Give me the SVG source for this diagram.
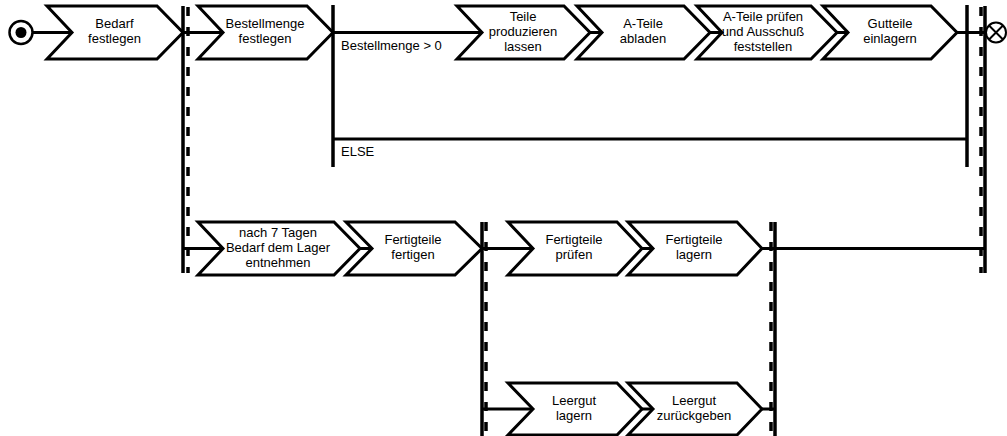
<svg xmlns="http://www.w3.org/2000/svg" width="1007" height="436" viewBox="0 0 1007 436">
  <style>
    .step { fill: #fff; stroke: #000; stroke-width: 3; stroke-linejoin: miter; }
    .flow { stroke: #000; stroke-width: 3; fill: none; }
    .bar { stroke: #000; stroke-width: 3.5; fill: none; }
    .dbar { stroke: #000; stroke-width: 3.5; stroke-dasharray: 9 11; fill: none; }
    text { font-family: "Liberation Sans", Arial, sans-serif; font-size: 13px; fill: #000; }
    .c { text-anchor: middle; }
  </style>

  <!-- connectors, bars and guards -->
  <g id="connectors">
    <!-- row 1 -->
    <line class="flow" x1="33" y1="32.5" x2="72" y2="32.5"/>
    <line class="flow" x1="183" y1="32.5" x2="223" y2="32.5"/>
    <line class="flow" x1="333" y1="32.5" x2="482" y2="32.5"/>
    <line class="flow" x1="590" y1="32.5" x2="602" y2="32.5"/>
    <line class="flow" x1="710" y1="32.5" x2="722" y2="32.5"/>
    <line class="flow" x1="837" y1="32.5" x2="848" y2="32.5"/>
    <line class="flow" x1="957" y1="32.5" x2="986" y2="32.5"/>
    <!-- ELSE branch -->
    <line class="flow" x1="333" y1="139" x2="967" y2="139"/>
    <!-- row 2 -->
    <line class="flow" x1="183" y1="248.5" x2="223" y2="248.5"/>
    <line class="flow" x1="360" y1="248.5" x2="372" y2="248.5"/>
    <line class="flow" x1="482" y1="248.5" x2="533" y2="248.5"/>
    <line class="flow" x1="642" y1="248.5" x2="653" y2="248.5"/>
    <line class="flow" x1="762" y1="248.5" x2="985" y2="248.5"/>
    <!-- row 3 -->
    <line class="flow" x1="482" y1="409" x2="533" y2="409"/>
    <line class="flow" x1="642" y1="409" x2="653" y2="409"/>
    <line class="flow" x1="762" y1="409" x2="775" y2="409"/>

    <!-- decision bars -->
    <line class="bar" x1="333" y1="5" x2="333" y2="167"/>
    <line class="bar" x1="967" y1="5" x2="967" y2="167"/>

    <!-- outer fork / join -->
    <line class="bar" x1="183" y1="6" x2="183" y2="273"/>
    <line class="dbar" x1="188" y1="7" x2="188" y2="273"/>
    <line class="dbar" x1="981" y1="7" x2="981" y2="273"/>
    <line class="bar" x1="985" y1="6" x2="985" y2="273"/>

    <!-- inner fork / join -->
    <line class="bar" x1="482" y1="222" x2="482" y2="436"/>
    <line class="dbar" x1="486" y1="222" x2="486" y2="436"/>
    <line class="dbar" x1="771" y1="222" x2="771" y2="436"/>
    <line class="bar" x1="775" y1="222" x2="775" y2="436"/>

    <text x="341" y="50">Bestellmenge &gt; 0</text>
    <text x="341" y="156">ELSE</text>
  </g>

  <g id="start">
    <circle cx="21" cy="32.5" r="11.5" fill="#fff" stroke="#000" stroke-width="2.5"/>
    <circle cx="21" cy="32.5" r="5.5" fill="#000"/>
  </g>

  <g id="end">
    <circle cx="996" cy="32.5" r="10" fill="#fff" stroke="#000" stroke-width="2"/>
    <path d="M989 25.5 L1003 39.5 M1003 25.5 L989 39.5" stroke="#000" stroke-width="2"/>
  </g>

  <g id="bedarf-festlegen">
    <path class="step" d="M47 6 H157 L183 32.5 L157 59 H47 L72 32.5 Z"/>
    <text class="c" x="114.5" y="28">Bedarf</text>
    <text class="c" x="114.5" y="43">festlegen</text>
  </g>

  <g id="bestellmenge-festlegen">
    <path class="step" d="M198 6 H307 L333 32.5 L307 59 H198 L223 32.5 Z"/>
    <text class="c" x="265" y="28">Bestellmenge</text>
    <text class="c" x="265" y="43">festlegen</text>
  </g>

  <g id="teile-produzieren">
    <path class="step" d="M457 6 H564 L590 32.5 L564 59 H457 L482 32.5 Z"/>
    <text class="c" x="523" y="21">Teile</text>
    <text class="c" x="523" y="36">produzieren</text>
    <text class="c" x="523" y="51">lassen</text>
  </g>

  <g id="a-teile-abladen">
    <path class="step" d="M577 6 H684 L710 32.5 L684 59 H577 L602 32.5 Z"/>
    <text class="c" x="643" y="28">A-Teile</text>
    <text class="c" x="643" y="43">abladen</text>
  </g>

  <g id="a-teile-pruefen">
    <path class="step" d="M697 6 H811 L837 32.5 L811 59 H697 L722 32.5 Z"/>
    <text class="c" x="763" y="21">A-Teile prüfen</text>
    <text class="c" x="763" y="36">und Ausschuß</text>
    <text class="c" x="763" y="51">feststellen</text>
  </g>

  <g id="gutteile-einlagern">
    <path class="step" d="M823 6 H931 L957 32.5 L931 59 H823 L848 32.5 Z"/>
    <text class="c" x="890" y="28">Gutteile</text>
    <text class="c" x="890" y="43">einlagern</text>
  </g>

  <g id="bedarf-entnehmen">
    <path class="step" d="M198 222 H334 L360 248.5 L334 275 H198 L223 248.5 Z"/>
    <text class="c" x="278" y="237">nach 7 Tagen</text>
    <text class="c" x="278" y="252">Bedarf dem Lager</text>
    <text class="c" x="278" y="267">entnehmen</text>
  </g>

  <g id="fertigteile-fertigen">
    <path class="step" d="M346 222 H455 L482 248.5 L455 275 H346 L372 248.5 Z"/>
    <text class="c" x="413" y="244">Fertigteile</text>
    <text class="c" x="413" y="259">fertigen</text>
  </g>

  <g id="fertigteile-pruefen">
    <path class="step" d="M508 222 H617 L642 248.5 L617 275 H508 L533 248.5 Z"/>
    <text class="c" x="574" y="244">Fertigteile</text>
    <text class="c" x="574" y="259">prüfen</text>
  </g>

  <g id="fertigteile-lagern">
    <path class="step" d="M628 222 H737 L762 248.5 L737 275 H628 L653 248.5 Z"/>
    <text class="c" x="694" y="244">Fertigteile</text>
    <text class="c" x="694" y="259">lagern</text>
  </g>

  <g id="leergut-lagern">
    <path class="step" d="M508 383 H617 L642 409 L617 435 H508 L533 409 Z"/>
    <text class="c" x="574" y="405">Leergut</text>
    <text class="c" x="574" y="420">lagern</text>
  </g>

  <g id="leergut-zurueckgeben">
    <path class="step" d="M628 383 H737 L762 409 L737 435 H628 L653 409 Z"/>
    <text class="c" x="694" y="405">Leergut</text>
    <text class="c" x="694" y="420">zurückgeben</text>
  </g>
</svg>
